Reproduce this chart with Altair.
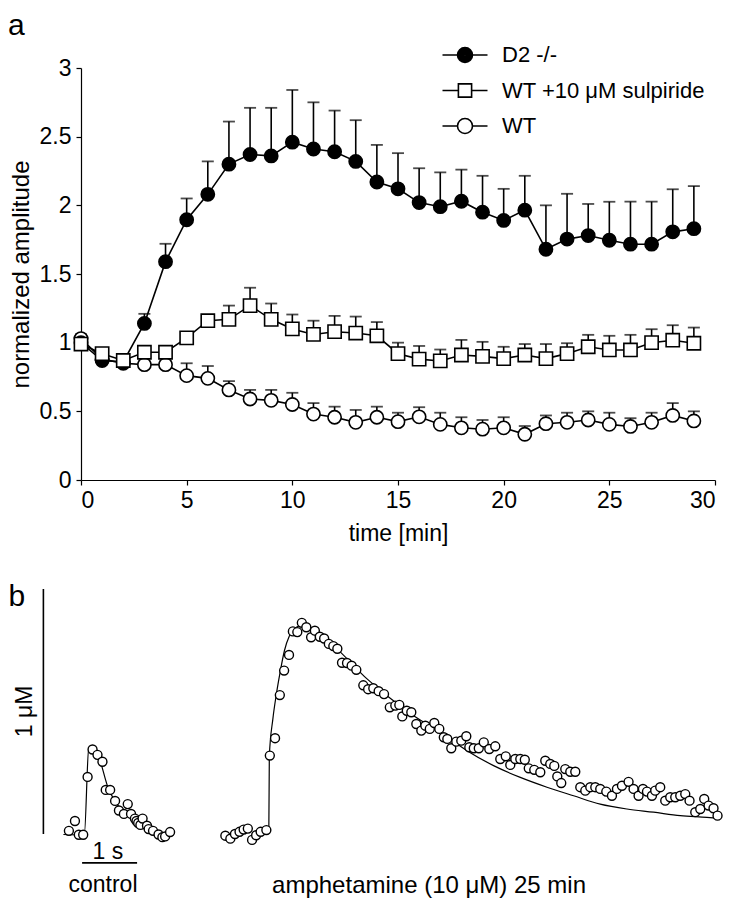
import altair as alt
import pandas as pd

FONT = "Liberation Sans"

# ---------------- panel a data ----------------
time_min = list(range(30))
series_names = ["D2 -/-", "WT +10 μM sulpiride", "WT"]

d2_mean = [1.00, 0.87, 0.86, 1.14, 1.59, 1.895, 2.08, 2.30, 2.37, 2.36,
           2.46, 2.41, 2.39, 2.32, 2.17, 2.12, 2.02, 1.99, 2.03, 1.95,
           1.89, 1.965, 1.68, 1.754, 1.78, 1.746, 1.717, 1.717, 1.807, 1.83]
d2_err = [0.03, 0.03, 0.03, 0.07, 0.13, 0.155, 0.24, 0.31, 0.34, 0.35,
          0.38, 0.34, 0.30, 0.30, 0.27, 0.26, 0.25, 0.25, 0.23, 0.265,
          0.23, 0.25, 0.32, 0.33, 0.23, 0.28, 0.31, 0.31, 0.31, 0.31]

sulp_mean = [0.99, 0.92, 0.87, 0.93, 0.93, 1.035, 1.16, 1.17, 1.27, 1.17,
             1.10, 1.06, 1.08, 1.07, 1.05, 0.92, 0.88, 0.867, 0.91, 0.90,
             0.884, 0.91, 0.884, 0.92, 0.97, 0.947, 0.947, 1.00, 1.018, 0.996]
sulp_err = [0.03, 0.03, 0.03, 0.03, 0.03, 0.03, 0.03, 0.10, 0.13, 0.115,
            0.105, 0.10, 0.115, 0.12, 0.10, 0.08, 0.096, 0.083, 0.11, 0.106,
            0.086, 0.08, 0.106, 0.076, 0.087, 0.103, 0.11, 0.098, 0.109, 0.114]

wt_mean = [1.03, 0.88, 0.85, 0.84, 0.84, 0.76, 0.74, 0.656, 0.59, 0.58,
           0.55, 0.48, 0.457, 0.42, 0.457, 0.425, 0.46, 0.405, 0.38, 0.37,
           0.38, 0.333, 0.41, 0.42, 0.437, 0.405, 0.39, 0.42, 0.47, 0.43]
wt_err = [0.03, 0.03, 0.03, 0.03, 0.03, 0.09, 0.09, 0.064, 0.066, 0.076,
          0.085, 0.08, 0.077, 0.09, 0.077, 0.065, 0.07, 0.085, 0.077, 0.067,
          0.077, 0.06, 0.06, 0.07, 0.063, 0.085, 0.06, 0.07, 0.09, 0.07]

# ---------------- panel b data ----------------
ctrl_t = [0.10, 0.21, 0.28, 0.36, 0.44, 0.53, 0.62, 0.71, 0.77, 0.85, 0.94, 1.01,
          1.10, 1.17, 1.23, 1.30, 1.33, 1.36, 1.40, 1.44, 1.52, 1.55, 1.63, 1.73,
          1.80, 1.85, 1.94]
ctrl_c = [0.013, 0.053, -0.003, -0.003, 0.233, 0.345, 0.323, 0.295, 0.180, 0.180,
          0.135, 0.096, 0.082, 0.122, 0.082, 0.063, 0.053, 0.045, 0.037, 0.063,
          0.034, 0.020, 0.013, -0.002, -0.013, -0.010, 0.008]
ctrl_fit_t = [0.00, 0.38, 0.46, 0.53, 0.63, 0.82, 0.95, 1.07, 1.22, 1.36, 1.55, 1.73, 1.95]
ctrl_fit_c = [-0.002, -0.004, 0.347, 0.353, 0.322, 0.184, 0.131, 0.094, 0.069,
              0.045, 0.022, 0.008, -0.002]

amph_t = [0.127, 0.218, 0.302, 0.385, 0.460, 0.536, 0.613, 0.687, 0.769, 0.873,
          0.936, 1.031, 1.118, 1.196, 1.285, 1.355, 1.436, 1.518, 1.600, 1.687,
          1.755, 1.845, 1.924, 2.009, 2.091, 2.164, 2.249, 2.340, 2.424, 2.509,
          2.636, 2.724, 2.818, 2.915, 3.013,
          3.118, 3.218, 3.291, 3.345, 3.427, 3.509, 3.600, 3.691, 3.764, 3.845,
          3.927, 4.018, 4.100, 4.164, 4.236, 4.327, 4.418, 4.509, 4.564, 4.645,
          4.736, 4.827, 4.927, 5.036, 5.127, 5.227, 5.309, 5.400, 5.491, 5.573,
          5.645, 5.745, 5.855, 5.945, 6.036, 6.109, 6.164, 6.236, 6.309, 6.400,
          6.491, 6.582, 6.673, 6.764, 6.855, 6.945, 7.055, 7.158, 7.249, 7.340,
          7.460, 7.551, 7.642, 7.722, 7.795, 7.885, 7.945, 8.036, 8.127, 8.218,
          8.309, 8.400, 8.491, 8.569, 8.673, 8.764, 8.836, 8.915, 9.005, 9.078]
amph_c = [-0.007, -0.019, 0.000, 0.009, 0.018, 0.022, -0.024, -0.005, 0.009, 0.016,
          0.320, 0.391, 0.567, 0.667, 0.731, 0.827, 0.824, 0.862, 0.844, 0.803,
          0.830, 0.805, 0.798, 0.776, 0.767, 0.756, 0.699, 0.698, 0.687, 0.670,
          0.607, 0.591, 0.595, 0.583, 0.571,
          0.517, 0.524, 0.527, 0.480, 0.503, 0.497, 0.449, 0.422, 0.442, 0.429,
          0.453, 0.429, 0.395, 0.388, 0.350, 0.377, 0.381, 0.399, 0.354, 0.350,
          0.350, 0.374, 0.347, 0.358, 0.306, 0.317, 0.282, 0.306, 0.306, 0.303,
          0.268, 0.262, 0.252, 0.299, 0.286, 0.278, 0.235, 0.208, 0.265, 0.254,
          0.254, 0.191, 0.177, 0.191, 0.191, 0.184, 0.173, 0.156, 0.184, 0.197,
          0.213, 0.184, 0.156, 0.184, 0.173, 0.156, 0.177, 0.191, 0.136, 0.150,
          0.150, 0.156, 0.163, 0.136, 0.089, 0.102, 0.143, 0.116, 0.105, 0.075]
amph_fit_t = [0.873, 0.918, 0.927, 0.991, 1.055, 1.127, 1.200, 1.291, 1.382, 1.473,
              1.673, 2.091, 2.704, 3.067, 3.551, 4.036, 4.522, 5.005, 5.491, 5.976,
              6.460, 6.945, 7.431, 7.915, 8.400, 8.885, 9.096]
amph_fit_c = [0.016, 0.020, 0.318, 0.469, 0.571, 0.665, 0.747, 0.808, 0.837, 0.849,
              0.837, 0.769, 0.633, 0.564, 0.483, 0.415, 0.340, 0.279, 0.231, 0.191,
              0.156, 0.122, 0.102, 0.089, 0.075, 0.068, 0.064]

# layout of the two traces on the shared time axis (s)
CTRL_OFFSET = 0.0
AMPH_OFFSET = 2.818

# ---------------- build tables ----------------
rows = []
for name, m, e in [("WT", wt_mean, wt_err), ("D2 -/-", d2_mean, d2_err),
                   ("WT +10 μM sulpiride", sulp_mean, sulp_err)]:
    for t, mv, ev in zip(time_min, m, e):
        rows.append({"series": name, "t": t, "mean": mv, "top": mv + ev})
df = pd.DataFrame(rows)

pts_b = pd.DataFrame(
    [{"trace": "control", "T": t + CTRL_OFFSET, "c": c} for t, c in zip(ctrl_t, ctrl_c)]
    + [{"trace": "amph", "T": t + AMPH_OFFSET, "c": c} for t, c in zip(amph_t, amph_c)])
fit_b = pd.DataFrame(
    [{"trace": "control", "T": t + CTRL_OFFSET, "c": c} for t, c in zip(ctrl_fit_t, ctrl_fit_c)]
    + [{"trace": "amph", "T": t + AMPH_OFFSET, "c": c} for t, c in zip(amph_fit_t, amph_fit_c)])

# ---------------- panel a ----------------
xs = alt.Scale(domain=[0, 30], nice=False)
ys = alt.Scale(domain=[0, 3], nice=False)
xaxis = alt.Axis(values=list(range(0, 31, 5)), labelPadding=4, titlePadding=10)
yaxis = alt.Axis(values=[0, 0.5, 1, 1.5, 2, 2.5, 3], format="~g", labelPadding=5,
                 titlePadding=6, titleFontSize=24)


def ex():
    return alt.X("t:Q", scale=xs, axis=xaxis, title="time [min]")


def ey(field):
    return alt.Y(field, scale=ys, axis=yaxis, title="normalized amplitude")


base = alt.Chart(df)
lines = base.mark_line(color="black", strokeWidth=1.6).encode(
    x=ex(), y=ey("mean:Q"), detail="series:N")
err_rules = base.mark_rule(color="black", strokeWidth=1.6).encode(
    x=ex(), y=ey("mean:Q"), y2="top:Q")
err_caps = base.mark_tick(color="black", orient="horizontal", size=12, thickness=1.8).encode(
    x=ex(), y=ey("top:Q"))
pts = base.mark_point(filled=True, size=175, stroke="black", strokeWidth=1.6, opacity=1).encode(
    x=ex(), y=ey("mean:Q"),
    shape=alt.Shape("series:N", scale=alt.Scale(domain=series_names,
                                                range=["circle", "square", "circle"]), legend=None),
    fill=alt.Fill("series:N", scale=alt.Scale(domain=series_names,
                                              range=["black", "white", "white"]), legend=None),
)

# legend glyphs: a short line with the marker in its middle
open_circ = "M-1.5,0L-0.5,0M0.5,0L1.5,0M-0.5,0A0.5,0.5,0,1,0,0.5,0A0.5,0.5,0,1,0,-0.5,0Z"
filled_circ = "M-1.5,0L-0.5,0M0.5,0L1.5,0" + "".join(
    f"M-{r},0A{r},{r},0,1,0,{r},0A{r},{r},0,1,0,-{r},0Z" for r in [0.5, 0.4, 0.3, 0.2, 0.1, 0.04])
open_sq = "M-1.5,0L-0.44,0M0.44,0L1.5,0M-0.44,-0.44L0.44,-0.44L0.44,0.44L-0.44,0.44Z"

leg = alt.Legend(orient="none", legendX=368, legendY=-29, title=None,
                 symbolSize=900, labelOffset=21, rowPadding=8.5,
                 labelFont=FONT, labelFontSize=22, labelColor="black", labelLimit=400,
                 symbolStrokeColor="black", symbolStrokeWidth=1.6, symbolOpacity=1,
                 symbolFillColor="transparent", padding=0)
legend_layer = base.transform_filter("datum.t < 0").mark_point(
    filled=False, color="black", strokeWidth=1.6, opacity=1).encode(
    x=ex(), y=ey("mean:Q"),
    shape=alt.Shape("series:N", scale=alt.Scale(domain=series_names,
                                                range=[filled_circ, open_sq, open_circ]),
                    legend=leg),
)

label_a = alt.Chart(pd.DataFrame({"label": ["a"]})).mark_text(
    align="left", baseline="alphabetic", font=FONT, fontSize=30, color="black").encode(
    text="label:N", x=alt.value(-73), y=alt.value(-33))

top = alt.layer(lines, err_rules, err_caps, pts, legend_layer, label_a).resolve_scale(
    shape="independent").properties(width=634, height=412)

# ---------------- panel b ----------------
bxs = alt.Scale(domain=[0.32, 11.85], nice=False, zero=False)
bys = alt.Scale(domain=[-0.2, 1.0], nice=False, zero=False)


def BX(f="T:Q"):
    return alt.X(f, scale=bxs, axis=None)


def BY(f="c:Q"):
    return alt.Y(f, scale=bys, axis=None)


fit_lines = alt.Chart(fit_b).mark_line(color="black", strokeWidth=1.2, interpolate="monotone").encode(
    x=BX(), y=BY(), detail="trace:N")
trace_pts = alt.Chart(pts_b).mark_point(shape="circle", size=80, filled=True, fill="white",
                                         stroke="black", strokeWidth=1.4, opacity=1).encode(
    x=BX(), y=BY())

scale_v = alt.Chart(pd.DataFrame({"T": [-0.364], "c0": [0.0], "c1": [1.0]})).mark_rule(
    color="black", strokeWidth=1.6).encode(x=BX(), y=BY("c0:Q"), y2="c1:Q")
scale_h = alt.Chart(pd.DataFrame({"T0": [0.34], "T1": [1.34], "c": [-0.118]})).mark_rule(
    color="black", strokeWidth=1.6).encode(x=BX("T0:Q"), x2="T1:Q", y=BY())

texts_b = pd.DataFrame({
    "T": [0.81, 0.72, 6.65],
    "c": [-0.102, -0.238, -0.24],
    "label": ["1 s", "control", "amphetamine (10 μM) 25 min"],
    "fs": [23, 23, 24],
})
txt_b = alt.Chart(texts_b).mark_text(align="center", baseline="alphabetic", font=FONT,
                                      color="black").encode(
    x=BX(), y=BY(), text="label:N", size=alt.Size("fs:Q", scale=None, legend=None))
txt_um = alt.Chart(pd.DataFrame({"T": [-0.69], "c": [0.5], "label": ["1 μM"]})).mark_text(
    align="center", baseline="middle", angle=270, font=FONT, fontSize=23, color="black").encode(
    x=BX(), y=BY(), text="label:N")
txt_b_lab = alt.Chart(pd.DataFrame({"T": [-1.0], "c": [0.93], "label": ["b"]})).mark_text(
    align="left", baseline="alphabetic", font=FONT, fontSize=30, color="black").encode(
    x=BX(), y=BY(), text="label:N")

bottom = alt.layer(fit_lines, trace_pts, scale_v, scale_h, txt_b, txt_um, txt_b_lab).properties(
    width=634, height=294)

chart = alt.vconcat(top, bottom, spacing=37).properties(
    padding={"left": 0, "top": 3, "right": 0, "bottom": 0}).configure_view(
    stroke=None).configure_axis(
    domainColor="black", tickColor="black", labelColor="black", titleColor="black",
    labelFont=FONT, titleFont=FONT, labelFontSize=23, titleFontSize=23,
    titleFontWeight="normal", tickSize=5, grid=False, domainWidth=1.2, tickWidth=1.2)

chart.save("out.html", embed_options={"renderer": "svg", "actions": False})
